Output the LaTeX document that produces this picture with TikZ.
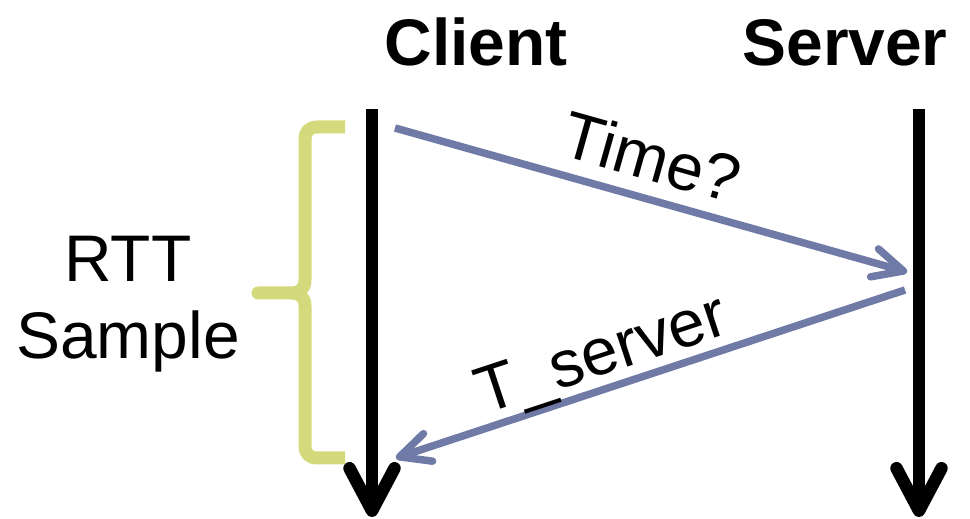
\documentclass[tikz,border=0pt]{standalone}
\usepackage{fontspec}
\setmainfont{Liberation Sans}
\usetikzlibrary{arrows.meta}
\definecolor{msgblue}{HTML}{6F7BA6}
\definecolor{bracegreen}{HTML}{D4DA7C}

\begin{document}
\begin{tikzpicture}[x=0.02cm, y=-0.02cm,
    every node/.style={font=\fontsize{37.5}{44}\selectfont, inner sep=0pt, text=black},
    head/.style={font=\fontsize{37.5}{44}\selectfont\bfseries, anchor=base},
    lifeline/.style={line width=0.25cm, -{Straight Barb[length=0.85cm, width=0.9cm, round]}},
    msg/.style={msgblue, line width=0.15cm, -{Straight Barb[length=0.6cm, width=0.58cm, round]}},
    rttbrace/.style={bracegreen, line width=0.26cm, line join=round}]
    \useasboundingbox (0,0) rectangle (970,519);
    \node[head] (client) at (476,66) {Client};
    \node[head] (server) at (845,66) {Server};
    \coordinate (ctop) at (372,109);
    \coordinate (cbot) at (372,517);
    \coordinate (stop) at (919,109);
    \coordinate (sbot) at (919,517);
    \draw[lifeline] (ctop) -- (cbot);
    \draw[lifeline] (stop) -- (sbot);
    \coordinate (ask) at (395,128);
    \coordinate (askend) at (907,272);
    \coordinate (reply) at (905,290);
    \coordinate (replyend) at (396,458);
    \draw[msg] (ask) -- node[sloped, above=0.28cm, pos=0.48] (timeq) {Time?} (askend);
    \draw[msg] (reply) -- node[sloped, above=-0.06cm, pos=0.575] (tsrv) {T\_server} (replyend);
    \draw[rttbrace] (345,127) -- (318,127) .. controls (309,127) and (305,131) .. (305,140)
        -- (305,280) .. controls (305,289) and (300,293) .. (290,293) -- (258,293)
        -- (290,293) .. controls (300,293) and (305,297) .. (305,306)
        -- (305,445) .. controls (305,454) and (309,458) .. (318,458) -- (345,458);
    \node[align=center] (rtt) at (128,304) {RTT\\Sample};
\end{tikzpicture}
\end{document}
